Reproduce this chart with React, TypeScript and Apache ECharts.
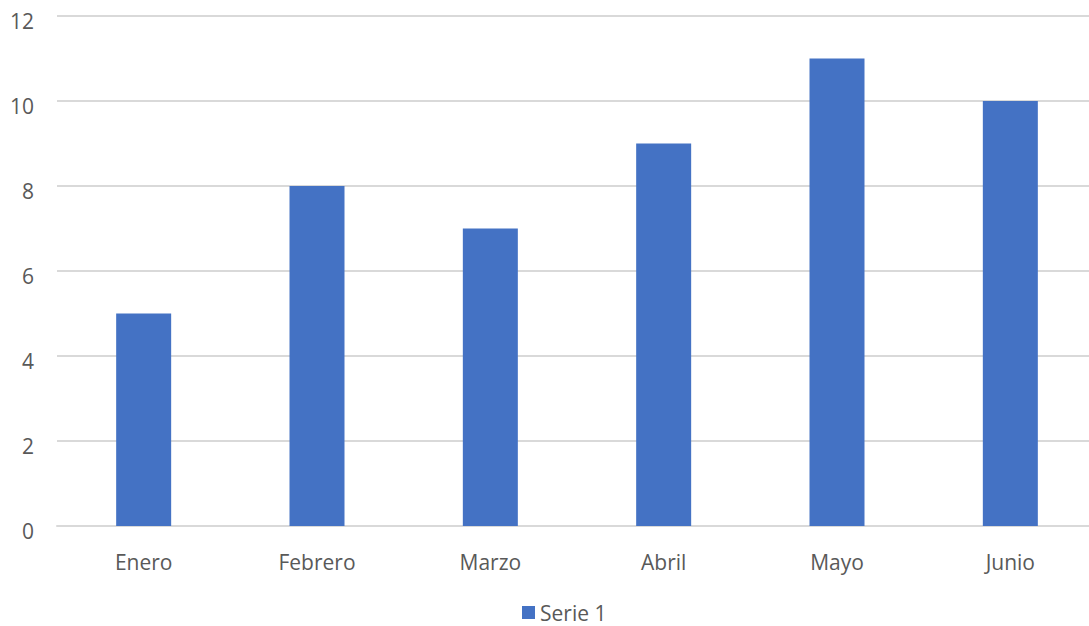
import React, { useEffect, useRef } from "react";
import * as echarts from "echarts";

const months = ["Enero", "Febrero", "Marzo", "Abril", "Mayo", "Junio"];
const serie1 = [5, 8, 7, 9, 11, 10];
const seriesName = "Serie 1";

const FONT = "'Open Sans', sans-serif";
const TEXT = "#595959";
const GRID = "#d9d9d9";

export default function App() {
  const ref = useRef<HTMLDivElement>(null);

  useEffect(() => {
    document.body.style.margin = "0";
    const chart = echarts.init(ref.current!, null, { renderer: "svg" });
    chart.setOption({
      animation: false,
      backgroundColor: "#ffffff",
      textStyle: { fontFamily: FONT },
      // plot area runs a little past the visible right edge
      grid: { left: 57, right: 0, top: 16, bottom: 100, containLabel: false },
      legend: {
        data: [seriesName],
        left: 522,
        top: 602,
        padding: 0,
        itemWidth: 13,
        itemHeight: 13,
        itemGap: 5,
        icon: "rect",
        textStyle: { color: TEXT, fontSize: 21, fontFamily: FONT },
      },
      xAxis: {
        type: "category",
        data: months,
        axisLine: { show: true, lineStyle: { color: GRID, width: 2 } },
        axisTick: { show: false },
        axisLabel: { color: TEXT, fontSize: 21, fontFamily: FONT, margin: 25 },
      },
      yAxis: {
        type: "value",
        min: 0,
        max: 12,
        interval: 2,
        axisLine: { show: false },
        axisTick: { show: false },
        splitLine: { lineStyle: { color: GRID, width: 2 } },
        axisLabel: {
          color: TEXT,
          fontSize: 21,
          fontFamily: FONT,
          margin: 23,
          verticalAlign: "top",
          lineHeight: 10,
        },
      },
      series: [
        {
          name: seriesName,
          type: "bar",
          data: serie1,
          barWidth: 55,
          itemStyle: { color: "#4472C4" },
        },
      ],
    });
    return () => chart.dispose();
  }, []);

  return (
    <div style={{ width: 1089, height: 626, overflow: "hidden" }}>
      <div ref={ref} style={{ width: 1097, height: 626 }} />
    </div>
  );
}
